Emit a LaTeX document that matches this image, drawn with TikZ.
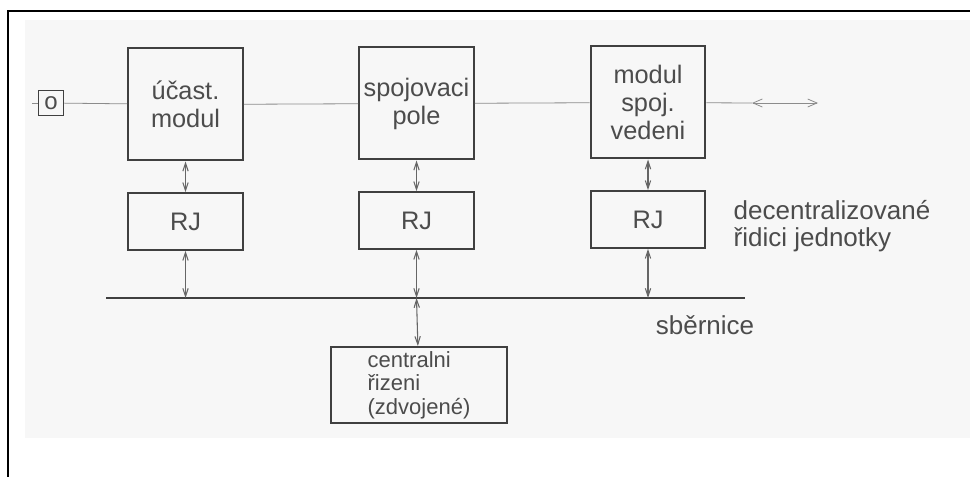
\documentclass[tikz,border=0pt]{standalone}
\usepackage{fontspec}
\setmainfont{Liberation Sans}
\usetikzlibrary{arrows.meta, positioning}

\begin{document}
\begin{tikzpicture}[
    x=0.75pt, y=-0.75pt,
    box/.style={rectangle, draw=black!75, line width=1.5pt, minimum width=86pt, minimum height=84pt, inner sep=2pt, align=center, text=black!70, font=\fontsize{19}{21}\selectfont},
    rjbox/.style={box, minimum height=42.5pt},
    sig/.style={draw=black!45, line width=0.6pt},
    arrow/.style={{Straight Barb[length=6pt,width=4pt]}-{Straight Barb[length=6pt,width=4pt]}, draw=black!60, line width=0.8pt},
    bus/.style={draw=black!75, line width=1.4pt},
    lbl/.style={text=black!70, font=\fontsize{19.5}{20}\selectfont, align=left}
  ]
    \useasboundingbox (0,0) rectangle (970,477);
    \fill[black!3] (25,20) rectangle (970,438);
    \draw[line width=2.2pt] (8,477) -- (8,11) -- (970,11);

    \node[draw=black!75, line width=1.2pt, minimum size=19pt, inner sep=0pt, text=black!70, font=\fontsize{18}{18}\selectfont] (term) at (51,103) {o};
    \node[box] (ucast) at (185.5,104.5) {účast.\\modul};
    \node[box] (pole) at (416.5,103.5) {spojovaci\\pole};
    \node[box] (vedeni) at (648,102.5) {modul\\spoj.\\vedeni};
    \node[rjbox, below=23pt of ucast] (rj1) {RJ};
    \node[rjbox, below=23pt of pole] (rj2) {RJ};
    \node[rjbox, below=23pt of vedeni] (rj3) {RJ};
    \node[box, minimum width=132pt, minimum height=57pt, align=left, font=\fontsize{16.5}{17.5}\selectfont] (central) at (419,385) {centralni\\řizeni\\(zdvojené)};

    \coordinate (stub) at (32,103);
    \coordinate (extA) at (752,103);
    \coordinate (extB) at (818,103);
    \coordinate (busL) at (106,298);
    \coordinate (busR) at (745,298);

    \node[lbl, anchor=west] (decent) at (729,226) {decentralizované\\řidici jednotky};
    \node[lbl] (sbernice) at (705,325) {sběrnice};

    \draw[sig] (stub) -- (term);
    \draw[sig] (term) -- (ucast);
    \draw[sig] (ucast) -- (pole);
    \draw[sig] (pole) -- (vedeni);
    \draw[sig] (vedeni) -- (extA);
    \draw[sig, {Straight Barb[length=7pt,width=6pt]}-{Straight Barb[length=7pt,width=6pt]}] (extA) -- (extB);

    \draw[bus] (busL) -- (busR);

    \draw[arrow] (ucast) -- (rj1);
    \draw[arrow] (pole) -- (rj2);
    \draw[arrow] (vedeni) -- (rj3);
    \draw[arrow] (rj1.south) -- (rj1.south |- busL);
    \draw[arrow] (rj2.south) -- (rj2.south |- busL);
    \draw[arrow] (rj3.south) -- (rj3.south |- busL);
    \draw[arrow] (rj2.south |- busL) -- (central);
\end{tikzpicture}
\end{document}
